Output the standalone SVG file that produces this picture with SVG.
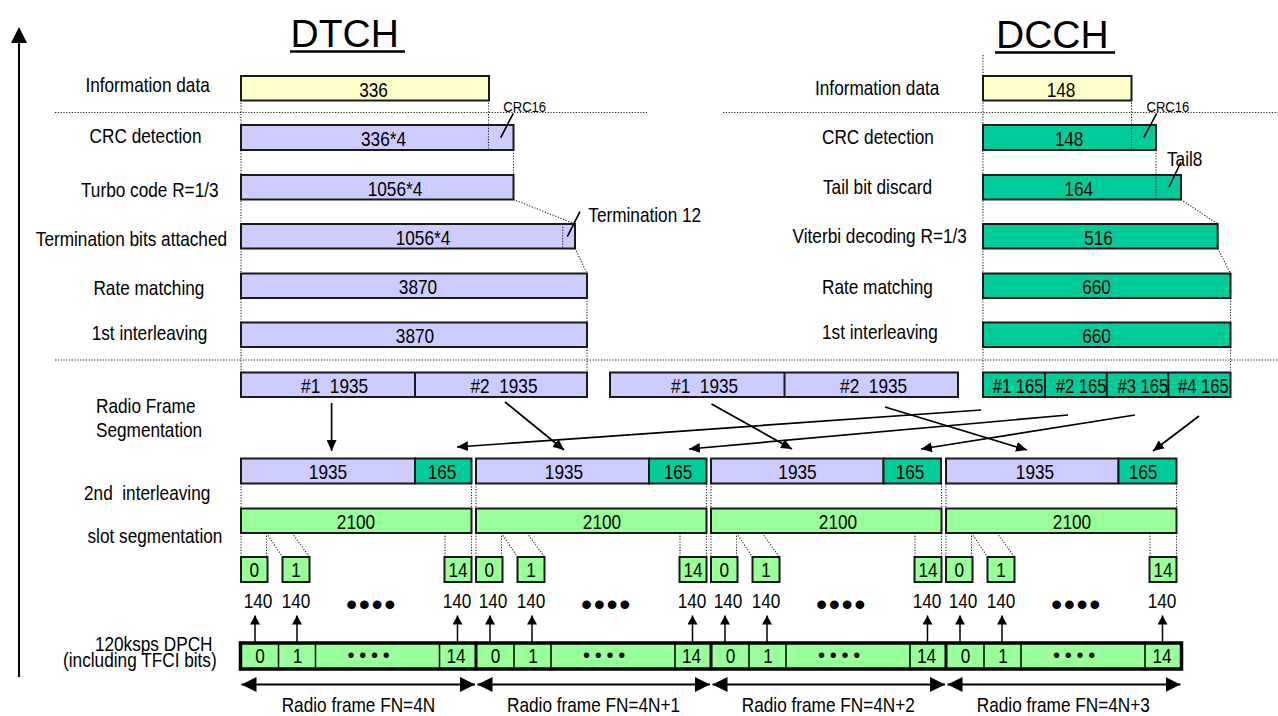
<svg xmlns="http://www.w3.org/2000/svg" width="1278" height="716" viewBox="0 0 1278 716">
<style>
.t{font-family:"Liberation Sans",Arial,sans-serif;font-size:21px;fill:#000}
.m{text-anchor:middle}
.e{text-anchor:end}
.s{font-size:15px}
.ttl{font-family:"Liberation Sans",Arial,sans-serif;font-size:39px;fill:#000}
.bx{stroke:#1a1a1a;stroke-width:2}
.y{fill:#FFFFCC}
.l{fill:#CCCCFF}
.g{fill:#00CC99}
.lg{fill:#99FF99}
.dot{stroke:#222;stroke-width:1.1;stroke-dasharray:1.2 1.6;fill:none}
.ln{stroke:#000;stroke-width:1.6;fill:none}
.bul{font-family:"Liberation Sans",Arial,sans-serif;font-size:32px;letter-spacing:1.5px;text-anchor:middle}
.bul2{font-family:"Liberation Sans",Arial,sans-serif;font-size:20px;letter-spacing:4.7px;text-anchor:middle}
</style>
<defs>
<marker id="ah" markerWidth="12" markerHeight="10" refX="11" refY="5" orient="auto" markerUnits="userSpaceOnUse"><path d="M0,0 L11,5 L0,10 z" fill="#000"/></marker>
<marker id="ahs" markerWidth="10" markerHeight="10" refX="9" refY="5" orient="auto" markerUnits="userSpaceOnUse"><path d="M0,0 L9,5 L0,10 z" fill="#000"/></marker>
<marker id="ahb" markerWidth="16" markerHeight="16" refX="15" refY="7.5" orient="auto-start-reverse" markerUnits="userSpaceOnUse"><path d="M0,0 L15,7.5 L0,15 z" fill="#000"/></marker>
</defs>
<rect width="1278" height="716" fill="#fff"/>

<!-- axis -->
<g id="axis">
<line x1="19" y1="42" x2="19" y2="677" stroke="#000" stroke-width="2"/>
<polygon points="19,27 11,43 27,43" fill="#000"/>
</g>

<!-- titles -->
<g id="title_dtch">
<text class="ttl" x="290.5" y="47">DTCH</text>
<line x1="290" y1="51.5" x2="405" y2="51.5" stroke="#000" stroke-width="2.5"/>
</g>
<g id="title_dcch">
<text class="ttl" x="996" y="48">DCCH</text>
<line x1="995" y1="52.5" x2="1115" y2="52.5" stroke="#000" stroke-width="2.5"/>
</g>

<!-- background dotted guides -->
<g id="guides">
<path class="dot" d="M55,112.5H647 M723,112.5H1278 M55,360H1278"/>
<path class="dot" d="M241,100V372 M488.5,100V125 M513.5,150V175 M513.5,199.5L575,224 M575,248.5L587,273.5 M587,298V322.5 M587,347V372"/>
<path class="dot" d="M983,55V372 M1131.5,100V125 M1156,150V175 M1181,199.5L1217.7,224 M1217.7,248.5L1230.5,273.5 M1230.5,298V322.5 M1230.5,347V372"/>
<path class="dot" d="M241,483.5V508.5 M471.5,483.5V508.5 M476,483.5V508.5 M706.5,483.5V508.5 M711,483.5V508.5 M941.5,483.5V508.5 M946,483.5V508.5 M1176.5,483.5V508.5"/>
<path class="dot" d="M241,533V557 M266.5,533V557 M266.5,533L282.5,557 M292,533L309.5,557 M445,533V557 M471.5,533V557
M476,533V557 M501.5,533V557 M501.5,533L517.5,557 M527,533L544.5,557 M680,533V557 M706.5,533V557
M711,533V557 M736.5,533V557 M736.5,533L752.5,557 M762,533L779.5,557 M915,533V557 M941.5,533V557
M946,533V557 M971.5,533V557 M971.5,533L987.5,557 M997,533L1014.5,557 M1150,533V557 M1176.5,533V557"/>
</g>

<!-- left labels -->
<g id="labels">
<text class="t" transform="matrix(.82 0 0 1 85.4 92)">Information data</text>
<text class="t" transform="matrix(.82 0 0 1 89.6 143)">CRC detection</text>
<text class="t" transform="matrix(.82 0 0 1 81 197)">Turbo code R=1/3</text>
<text class="t" transform="matrix(.82 0 0 1 35.8 246)">Termination bits attached</text>
<text class="t" transform="matrix(.82 0 0 1 93.4 295)">Rate matching</text>
<text class="t" transform="matrix(.82 0 0 1 91.7 340)">1st interleaving</text>
<text class="t" transform="matrix(.82 0 0 1 815 95)">Information data</text>
<text class="t" transform="matrix(.82 0 0 1 822 144)">CRC detection</text>
<text class="t" transform="matrix(.82 0 0 1 823 194)">Tail bit discard</text>
<text class="t" transform="matrix(.82 0 0 1 792.6 243)">Viterbi decoding R=1/3</text>
<text class="t" transform="matrix(.82 0 0 1 822 294)">Rate matching</text>
<text class="t" transform="matrix(.82 0 0 1 822 339)">1st interleaving</text>
<text class="t" transform="matrix(.82 0 0 1 96 413)">Radio Frame</text>
<text class="t" transform="matrix(.82 0 0 1 96 437)">Segmentation</text>
<text class="t" xml:space="preserve" transform="matrix(.82 0 0 1 84 500)">2nd  interleaving</text>
<text class="t" transform="matrix(.82 0 0 1 87.5 543)">slot segmentation</text>
<text class="t e" transform="matrix(.82 0 0 1 212.5 651)">120ksps DPCH</text>
<text class="t e" transform="matrix(.82 0 0 1 216.7 667)">(including TFCI bits)</text>
</g>

<!-- DTCH chain -->
<g id="dtch_info"><rect class="bx y" x="241" y="76" width="248" height="24.5"/><text class="t m" transform="matrix(.82 0 0 1 373.5 96.5)">336</text></g>
<g id="dtch_crc"><rect class="bx l" x="241" y="125" width="272.5" height="25"/><text class="t m" transform="matrix(.82 0 0 1 383.5 145.5)">336*4</text><path class="dot" d="M488.5,125V150"/>
<text class="t s" transform="matrix(.87 0 0 1 503.3 111.5)">CRC16</text><line class="ln" x1="513.3" y1="113.3" x2="500.7" y2="137.7" stroke-width="1.4"/></g>
<g id="dtch_turbo"><rect class="bx l" x="241" y="175" width="272.5" height="24.5"/><text class="t m" transform="matrix(.82 0 0 1 395 195.5)">1056*4</text></g>
<g id="dtch_term"><rect class="bx l" x="241" y="224" width="334" height="24.5"/><text class="t m" transform="matrix(.82 0 0 1 423 244.5)">1056*4</text><path class="dot" d="M562.7,224V248.5"/>
<text class="t" transform="matrix(.82 0 0 1 588.3 222)">Termination 12</text><line class="ln" x1="580" y1="211.7" x2="567.3" y2="236.7" stroke-width="1.4"/></g>
<g id="dtch_rm"><rect class="bx l" x="241" y="273.5" width="346" height="24.5"/><text class="t m" transform="matrix(.82 0 0 1 418 294)">3870</text></g>
<g id="dtch_il1"><rect class="bx l" x="241" y="322.5" width="346" height="24.5"/><text class="t m" transform="matrix(.82 0 0 1 415 343)">3870</text></g>

<!-- DCCH chain -->
<g id="dcch_info"><rect class="bx y" x="983" y="76" width="148.5" height="24.5"/><text class="t m" transform="matrix(.82 0 0 1 1061 96.5)">148</text></g>
<g id="dcch_crc"><rect class="bx g" x="983" y="125" width="173" height="25"/><text class="t m" transform="matrix(.82 0 0 1 1069 145.5)">148</text><path class="dot" d="M1131.5,125V150"/>
<text class="t s" transform="matrix(.87 0 0 1 1146.5 111.7)">CRC16</text><line class="ln" x1="1156.7" y1="113.3" x2="1143.7" y2="137.7" stroke-width="1.4"/></g>
<g id="dcch_tail"><rect class="bx g" x="983" y="175" width="198" height="24.5"/><text class="t m" transform="matrix(.82 0 0 1 1078.7 195.5)">164</text><path class="dot" d="M1156,175V199.5"/>
<text class="t" transform="matrix(.82 0 0 1 1167 166)">Tail8</text><line class="ln" x1="1181" y1="162" x2="1169" y2="187" stroke-width="1.4"/></g>
<g id="dcch_vit"><rect class="bx g" x="983" y="224" width="234.7" height="24.5"/><text class="t m" transform="matrix(.82 0 0 1 1098.5 244.5)">516</text></g>
<g id="dcch_rm"><rect class="bx g" x="983" y="273.5" width="247.5" height="24.5"/><text class="t m" transform="matrix(.82 0 0 1 1096.5 294)">660</text></g>
<g id="dcch_il1"><rect class="bx g" x="983" y="322.5" width="247.5" height="24.5"/><text class="t m" transform="matrix(.82 0 0 1 1096.5 343)">660</text></g>

<!-- radio frame segmentation -->
<g id="seg_dtch_a"><rect class="bx l" x="241" y="372.5" width="346" height="24.5"/><line class="bx" x1="415" y1="372.5" x2="415" y2="397"/>
<text class="t m" xml:space="preserve" transform="matrix(.82 0 0 1 334.6 393)">#1  1935</text><text class="t m" xml:space="preserve" transform="matrix(.82 0 0 1 504 393)">#2  1935</text></g>
<g id="seg_dtch_b"><rect class="bx l" x="610" y="372.5" width="348" height="24.5"/><line class="bx" x1="784.5" y1="372.5" x2="784.5" y2="397"/>
<text class="t m" xml:space="preserve" transform="matrix(.82 0 0 1 704.6 393)">#1  1935</text><text class="t m" xml:space="preserve" transform="matrix(.82 0 0 1 873.6 393)">#2  1935</text></g>
<g id="seg_dcch"><rect class="bx g" x="983" y="372.5" width="247.5" height="24.5"/>
<text class="t m" transform="matrix(.79 0 0 1 1018 393)">#1 165</text><text class="t m" transform="matrix(.79 0 0 1 1081 393)">#2 165</text><text class="t m" transform="matrix(.79 0 0 1 1142.8 393)">#3 165</text><text class="t m" transform="matrix(.79 0 0 1 1203.3 393)">#4 165</text>
<path class="bx" d="M1045,372.5V397 M1106.7,372.5V397 M1168.3,372.5V397" fill="none"/></g>

<!-- connectors -->
<g id="connectors" stroke="#000" stroke-width="1.7" fill="none">
<line x1="331.6" y1="403" x2="331.6" y2="451" marker-end="url(#ah)"/>
<line x1="505" y1="402" x2="564" y2="450" marker-end="url(#ah)"/>
<line x1="981" y1="410" x2="457" y2="447" marker-end="url(#ah)"/>
<line x1="1068" y1="415" x2="689" y2="449" marker-end="url(#ah)"/>
<line x1="711.5" y1="404" x2="792" y2="449" marker-end="url(#ah)"/>
<line x1="885" y1="407" x2="1027" y2="450" marker-end="url(#ah)"/>
<line x1="1135" y1="415" x2="921" y2="449" marker-end="url(#ah)"/>
<line x1="1199" y1="416" x2="1153" y2="451" marker-end="url(#ah)"/>
<g stroke-width="1.5">
<line x1="255" y1="642" x2="255" y2="615.5" marker-end="url(#ahs)"/>
<line x1="297" y1="642" x2="297" y2="615.5" marker-end="url(#ahs)"/>
<line x1="457.5" y1="642" x2="457.5" y2="615.5" marker-end="url(#ahs)"/>
<line x1="490" y1="642" x2="490" y2="615.5" marker-end="url(#ahs)"/>
<line x1="532" y1="642" x2="532" y2="615.5" marker-end="url(#ahs)"/>
<line x1="692.5" y1="642" x2="692.5" y2="615.5" marker-end="url(#ahs)"/>
<line x1="725" y1="642" x2="725" y2="615.5" marker-end="url(#ahs)"/>
<line x1="767" y1="642" x2="767" y2="615.5" marker-end="url(#ahs)"/>
<line x1="927.5" y1="642" x2="927.5" y2="615.5" marker-end="url(#ahs)"/>
<line x1="960" y1="642" x2="960" y2="615.5" marker-end="url(#ahs)"/>
<line x1="1002" y1="642" x2="1002" y2="615.5" marker-end="url(#ahs)"/>
<line x1="1162.5" y1="642" x2="1162.5" y2="615.5" marker-end="url(#ahs)"/>
</g>
<g stroke-width="2">
<line x1="241.5" y1="684.5" x2="475" y2="684.5" marker-start="url(#ahb)" marker-end="url(#ahb)"/>
<line x1="477.5" y1="684.5" x2="710" y2="684.5" marker-start="url(#ahb)" marker-end="url(#ahb)"/>
<line x1="712.5" y1="684.5" x2="945" y2="684.5" marker-start="url(#ahb)" marker-end="url(#ahb)"/>
<line x1="947.5" y1="684.5" x2="1180.5" y2="684.5" marker-start="url(#ahb)" marker-end="url(#ahb)"/>
</g>
</g>

<!-- 2nd interleaving frames -->
<g id="il2_f1"><rect class="bx l" x="241" y="458.5" width="174" height="25"/><rect class="bx g" x="415" y="458.5" width="56.5" height="25"/>
<text class="t m" transform="matrix(.82 0 0 1 328 479)">1935</text><text class="t m" transform="matrix(.82 0 0 1 442 479)">165</text></g>
<g id="il2_f2"><rect class="bx l" x="476" y="458.5" width="173" height="25"/><rect class="bx g" x="649" y="458.5" width="57.5" height="25"/>
<text class="t m" transform="matrix(.82 0 0 1 564 479)">1935</text><text class="t m" transform="matrix(.82 0 0 1 678 479)">165</text></g>
<g id="il2_f3"><rect class="bx l" x="711" y="458.5" width="172.5" height="25"/><rect class="bx g" x="883.5" y="458.5" width="57.5" height="25"/>
<text class="t m" transform="matrix(.82 0 0 1 797.5 479)">1935</text><text class="t m" transform="matrix(.82 0 0 1 910 479)">165</text></g>
<g id="il2_f4"><rect class="bx l" x="946" y="458.5" width="172.5" height="25"/><rect class="bx g" x="1118.5" y="458.5" width="58" height="25"/>
<text class="t m" transform="matrix(.82 0 0 1 1035 479)">1935</text><text class="t m" transform="matrix(.82 0 0 1 1143 479)">165</text></g>

<!-- slot segmentation 2100 -->
<g id="seg2100_f1"><rect class="bx lg" x="241" y="508.5" width="230.5" height="24.5"/><text class="t m" transform="matrix(.82 0 0 1 356 529)">2100</text></g>
<g id="seg2100_f2"><rect class="bx lg" x="476" y="508.5" width="230.5" height="24.5"/><text class="t m" transform="matrix(.82 0 0 1 602 529)">2100</text></g>
<g id="seg2100_f3"><rect class="bx lg" x="711" y="508.5" width="230.5" height="24.5"/><text class="t m" transform="matrix(.82 0 0 1 838 529)">2100</text></g>
<g id="seg2100_f4"><rect class="bx lg" x="946" y="508.5" width="230.5" height="24.5"/><text class="t m" transform="matrix(.82 0 0 1 1072 529)">2100</text></g>

<!-- slots -->
<g id="slots_f1">
<rect class="bx lg" x="241" y="557" width="26.5" height="25" stroke-width="1.6"/><text class="t m" transform="matrix(.82 0 0 1 254.3 577)">0</text>
<rect class="bx lg" x="282.5" y="557" width="27" height="25" stroke-width="1.6"/><text class="t m" transform="matrix(.82 0 0 1 296 577)">1</text>
<rect class="bx lg" x="444.5" y="557" width="27" height="25" stroke-width="1.6"/><text class="t m" transform="matrix(.82 0 0 1 458 577)">14</text>
<text class="t m" transform="matrix(.82 0 0 1 258 607.5)">140</text><text class="t m" transform="matrix(.82 0 0 1 296 607.5)">140</text><text class="t m" transform="matrix(.82 0 0 1 457 607.5)">140</text>
<text class="bul" x="371.5" y="614.5">••••</text>
</g>
<g id="slots_f2">
<rect class="bx lg" x="476" y="557" width="26.5" height="25" stroke-width="1.6"/><text class="t m" transform="matrix(.82 0 0 1 489.3 577)">0</text>
<rect class="bx lg" x="517.5" y="557" width="27" height="25" stroke-width="1.6"/><text class="t m" transform="matrix(.82 0 0 1 531 577)">1</text>
<rect class="bx lg" x="679.5" y="557" width="27" height="25" stroke-width="1.6"/><text class="t m" transform="matrix(.82 0 0 1 693 577)">14</text>
<text class="t m" transform="matrix(.82 0 0 1 493 607.5)">140</text><text class="t m" transform="matrix(.82 0 0 1 531 607.5)">140</text><text class="t m" transform="matrix(.82 0 0 1 692 607.5)">140</text>
<text class="bul" x="606.5" y="614.5">••••</text>
</g>
<g id="slots_f3">
<rect class="bx lg" x="711" y="557" width="26.5" height="25" stroke-width="1.6"/><text class="t m" transform="matrix(.82 0 0 1 724.3 577)">0</text>
<rect class="bx lg" x="752.5" y="557" width="27" height="25" stroke-width="1.6"/><text class="t m" transform="matrix(.82 0 0 1 766 577)">1</text>
<rect class="bx lg" x="914.5" y="557" width="27" height="25" stroke-width="1.6"/><text class="t m" transform="matrix(.82 0 0 1 928 577)">14</text>
<text class="t m" transform="matrix(.82 0 0 1 728 607.5)">140</text><text class="t m" transform="matrix(.82 0 0 1 766 607.5)">140</text><text class="t m" transform="matrix(.82 0 0 1 927 607.5)">140</text>
<text class="bul" x="841.5" y="614.5">••••</text>
</g>
<g id="slots_f4">
<rect class="bx lg" x="946" y="557" width="26.5" height="25" stroke-width="1.6"/><text class="t m" transform="matrix(.82 0 0 1 959.3 577)">0</text>
<rect class="bx lg" x="987.5" y="557" width="27" height="25" stroke-width="1.6"/><text class="t m" transform="matrix(.82 0 0 1 1001 577)">1</text>
<rect class="bx lg" x="1149.5" y="557" width="27" height="25" stroke-width="1.6"/><text class="t m" transform="matrix(.82 0 0 1 1163 577)">14</text>
<text class="t m" transform="matrix(.82 0 0 1 963 607.5)">140</text><text class="t m" transform="matrix(.82 0 0 1 1001 607.5)">140</text><text class="t m" transform="matrix(.82 0 0 1 1162 607.5)">140</text>
<text class="bul" x="1076.5" y="614.5">••••</text>
</g>

<!-- DPCH -->
<g id="dpch">
<rect x="240.5" y="643" width="941" height="26" fill="#99FF99" stroke="#000" stroke-width="3.5"/>
<path d="M278.5,643V669 M315.5,643V669 M439.5,643V669 M514,643V669 M551,643V669 M675,643V669 M749,643V669 M786,643V669 M910,643V669 M984,643V669 M1021,643V669 M1145,643V669" stroke="#000" stroke-width="1.5"/>
<path d="M476,643V669 M711,643V669 M946,643V669" stroke="#000" stroke-width="3"/>
<text class="t m" transform="matrix(.82 0 0 1 260 663)">0</text><text class="t m" transform="matrix(.82 0 0 1 297.5 663)">1</text><text class="bul2" x="371" y="662">••••</text><text class="t m" transform="matrix(.82 0 0 1 456 663)">14</text>
<text class="t m" transform="matrix(.82 0 0 1 495.5 663)">0</text><text class="t m" transform="matrix(.82 0 0 1 533 663)">1</text><text class="bul2" x="606.5" y="662">••••</text><text class="t m" transform="matrix(.82 0 0 1 691.5 663)">14</text>
<text class="t m" transform="matrix(.82 0 0 1 730.5 663)">0</text><text class="t m" transform="matrix(.82 0 0 1 768 663)">1</text><text class="bul2" x="841.5" y="662">••••</text><text class="t m" transform="matrix(.82 0 0 1 926.5 663)">14</text>
<text class="t m" transform="matrix(.82 0 0 1 965.5 663)">0</text><text class="t m" transform="matrix(.82 0 0 1 1003 663)">1</text><text class="bul2" x="1076.5" y="662">••••</text><text class="t m" transform="matrix(.82 0 0 1 1162 663)">14</text>
</g>

<g id="frame_labels">
<text class="t m" transform="matrix(.82 0 0 1 358.4 712)">Radio frame FN=4N</text>
<text class="t m" transform="matrix(.82 0 0 1 593.6 712)">Radio frame FN=4N+1</text>
<text class="t m" transform="matrix(.82 0 0 1 828.3 712)">Radio frame FN=4N+2</text>
<text class="t m" transform="matrix(.82 0 0 1 1063.3 712)">Radio frame FN=4N+3</text>
</g>
</svg>
